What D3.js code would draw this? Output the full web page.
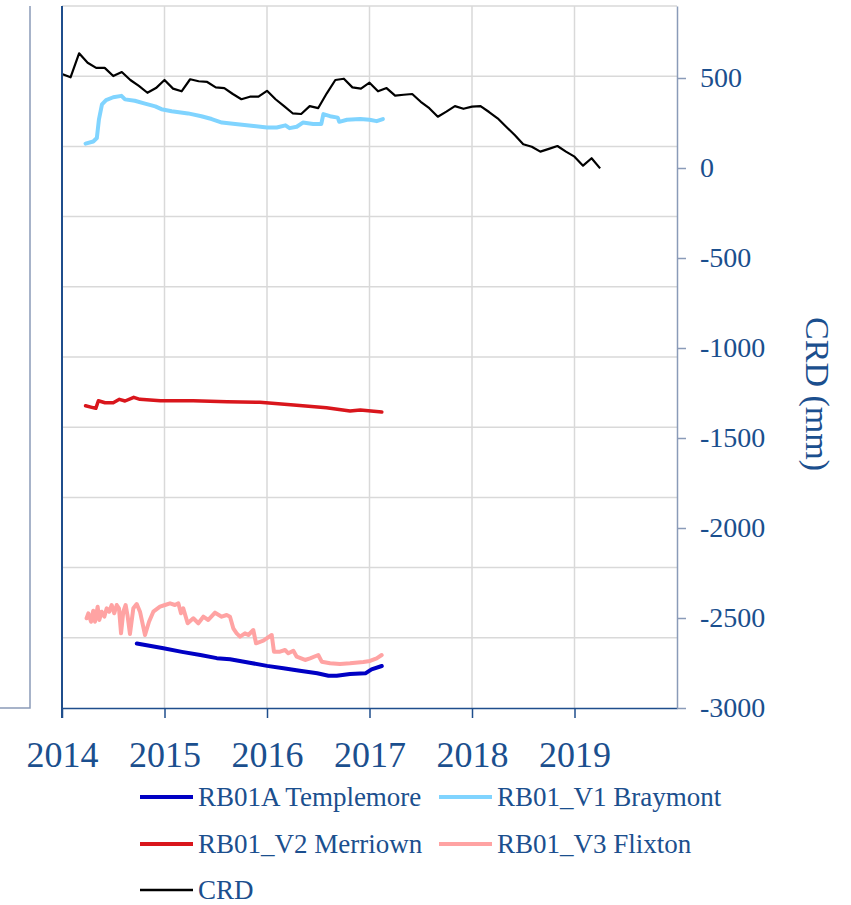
<!DOCTYPE html>
<html>
<head>
    <meta charset="utf-8">
    <title>CRD</title>
    <script src="https://d3js.org/d3.v7.min.js"></script>
    <style>
        body { margin: 0; background: #fff; }
        svg { display: block; }
    </style>
</head>
<body>
    <div id="chart"></div>

    <script>
        // Cumulative rainfall departure, monthly from Jan 2014 (mm, right axis)
        const crdStart = 2014;
        const crdValues = [522, 504, 637, 585, 556, 556, 511, 533, 489, 456, 418, 444,
                           489, 441, 426, 493, 482, 478, 448, 444, 411, 382, 396, 396,
                           429, 382, 344, 304, 300, 344, 333, 415, 489, 496, 448, 441,
                           474, 426, 444, 402, 407, 411, 368, 332, 285, 313, 344, 329,
                           341, 344, 311, 276, 229, 183, 132, 118, 91, 106, 122, 91,
                           63, 13, 54, -2];

        // Borehole levels on the (unlabelled) primary axis: [year, level]
        const templemore = [[2014.73, 0.92], [2014.99, 0.85], [2015.17, 0.80], [2015.35, 0.755],
            [2015.51, 0.71], [2015.64, 0.695], [2015.83, 0.645], [2016.0, 0.60], [2016.16, 0.566],
            [2016.32, 0.53], [2016.49, 0.494], [2016.60, 0.46], [2016.68, 0.46], [2016.81, 0.484],
            [2016.96, 0.494], [2017.02, 0.551], [2017.12, 0.598]];

        const braymont = [[2014.23, 8.04], [2014.305, 8.07], [2014.34, 8.12], [2014.36, 8.38],
            [2014.39, 8.60], [2014.43, 8.66], [2014.50, 8.70], [2014.58, 8.72], [2014.615, 8.67],
            [2014.71, 8.65], [2014.81, 8.61], [2014.91, 8.57], [2014.97, 8.53], [2015.07, 8.50],
            [2015.23, 8.47], [2015.36, 8.43], [2015.46, 8.39], [2015.56, 8.34], [2015.69, 8.32],
            [2015.87, 8.29], [2016.0, 8.27], [2016.095, 8.27], [2016.18, 8.30], [2016.22, 8.26],
            [2016.29, 8.28], [2016.35, 8.34], [2016.45, 8.32], [2016.53, 8.32], [2016.55, 8.46],
            [2016.615, 8.43], [2016.69, 8.41], [2016.705, 8.35], [2016.78, 8.38], [2016.91, 8.39],
            [2017.0, 8.38], [2017.07, 8.36], [2017.13, 8.39]];

        const merriown = [[2014.23, 4.306], [2014.29, 4.283], [2014.33, 4.269], [2014.355, 4.377],
            [2014.42, 4.349], [2014.50, 4.349], [2014.56, 4.397], [2014.615, 4.373], [2014.70, 4.426],
            [2014.76, 4.397], [2014.96, 4.377], [2015.28, 4.377], [2015.61, 4.363], [2015.93, 4.355],
            [2016.26, 4.316], [2016.58, 4.278], [2016.81, 4.231], [2016.91, 4.245], [2017.12, 4.217]];

        const flixton = [[2014.24, 1.278], [2014.257, 1.349], [2014.283, 1.229], [2014.305, 1.386],
            [2014.322, 1.229], [2014.348, 1.443], [2014.364, 1.254], [2014.387, 1.372], [2014.413, 1.301],
            [2014.436, 1.420], [2014.461, 1.372], [2014.485, 1.467], [2014.51, 1.349], [2014.534, 1.467],
            [2014.556, 1.420], [2014.576, 1.064], [2014.598, 1.372], [2014.621, 1.467], [2014.641, 1.301],
            [2014.663, 1.054], [2014.696, 1.420], [2014.729, 1.481], [2014.761, 1.372], [2014.81, 1.040],
            [2014.849, 1.229], [2014.891, 1.372], [2014.956, 1.443], [2015.005, 1.467], [2015.054, 1.491],
            [2015.102, 1.467], [2015.135, 1.491], [2015.161, 1.349], [2015.183, 1.420], [2015.226, 1.207],
            [2015.281, 1.278], [2015.33, 1.207], [2015.379, 1.301], [2015.427, 1.254], [2015.493, 1.358],
            [2015.558, 1.301], [2015.607, 1.325], [2015.639, 1.301], [2015.671, 1.135], [2015.704, 1.064],
            [2015.737, 1.016], [2015.785, 1.064], [2015.818, 1.040], [2015.866, 1.111], [2015.893, 0.922],
            [2015.964, 0.959], [2016.046, 1.040], [2016.068, 0.802], [2016.127, 0.802], [2016.176, 0.826],
            [2016.208, 0.779], [2016.257, 0.816], [2016.29, 0.731], [2016.371, 0.684], [2016.42, 0.708],
            [2016.50, 0.755], [2016.534, 0.660], [2016.615, 0.637], [2016.712, 0.627], [2016.81, 0.637],
            [2016.94, 0.655], [2017.005, 0.670], [2017.07, 0.708], [2017.119, 0.755]];

        const yearTicks = [2014, 2015, 2016, 2017, 2018, 2019];
        const crdTicks = [-3000, -2500, -2000, -1500, -1000, -500, 0, 500];

        const legendNames = ["RB01A Templemore", "RB01_V1 Braymont", "RB01_V2 Merriown", "RB01_V3 Flixton", "CRD"];
        const legendColors = ["#0000c4", "#80d4ff", "#d9161c", "#ffa3a3", "#000000"];

        const width = 851;
        const height = 905;
        const textColor = "#1b4f8e";
        const font = "'Liberation Serif', 'Times New Roman', serif";

        const x = d3.scaleLinear().domain([2014, 2020]).range([62, 677]);
        const yLeft = d3.scaleLinear().domain([0, 10]).range([708, 6]);
        const yRight = d3.scaleLinear().domain([-3000, 900]).range([708, 6]);

        const svg = d3.select("#chart")
            .append("svg")
            .attr("width", width)
            .attr("height", height)
            .style("font-family", font);

        svg.append("rect").attr("width", width).attr("height", height).attr("fill", "#fff");

        // remains of a neighbouring chart frame on the left
        svg.append("path")
            .attr("d", "M30,6V708H0")
            .attr("fill", "none")
            .attr("stroke", "#8a9bb8")
            .attr("stroke-width", 1.5);

        // gridlines
        const grid = svg.append("g").attr("stroke", "#d9d9d9").attr("stroke-width", 1.5);
        grid.selectAll(".h")
            .data(d3.range(1, 11))
            .join("line")
            .attr("x1", x(2014)).attr("x2", x(2020))
            .attr("y1", d => yLeft(d)).attr("y2", d => yLeft(d));
        grid.selectAll(".v")
            .data(yearTicks.slice(1))
            .join("line")
            .attr("x1", d => x(d)).attr("x2", d => x(d))
            .attr("y1", yLeft(0)).attr("y2", yLeft(10));

        // series
        const lineL = d3.line().x(d => x(d[0])).y(d => yLeft(d[1]));
        const series = [
            { data: templemore, color: legendColors[0], w: 4 },
            { data: braymont, color: legendColors[1], w: 4 },
            { data: merriown, color: legendColors[2], w: 3.5 },
            { data: flixton, color: legendColors[3], w: 4 }
        ];
        svg.append("g").selectAll("path")
            .data(series)
            .join("path")
            .attr("fill", "none")
            .attr("stroke", d => d.color)
            .attr("stroke-width", d => d.w)
            .attr("stroke-linejoin", "round")
            .attr("stroke-linecap", "round")
            .attr("d", d => lineL(d.data));

        const crd = crdValues.map((v, i) => [crdStart + i / 12, v]);
        svg.append("path")
            .datum(crd)
            .attr("fill", "none")
            .attr("stroke", legendColors[4])
            .attr("stroke-width", 2.2)
            .attr("stroke-linejoin", "round")
            .attr("d", d3.line().x(d => x(d[0])).y(d => yRight(d[1])));

        // bottom axis
        const xAxis = svg.append("g")
            .attr("transform", `translate(0,${yLeft(0)})`)
            .call(d3.axisBottom(x).tickValues(yearTicks).tickSize(10).tickSizeOuter(0)
                .tickPadding(23).tickFormat(d => d));
        xAxis.select(".domain").attr("stroke", "#1f4e8c").attr("stroke-width", 1.5);
        xAxis.selectAll(".tick line").attr("stroke", "#1f4e8c").attr("stroke-width", 1.5);
        xAxis.selectAll("text").attr("fill", textColor).style("font-size", "36px").style("font-family", font);

        // left axis line
        svg.append("line")
            .attr("x1", x(2014)).attr("x2", x(2014))
            .attr("y1", yLeft(10)).attr("y2", yLeft(0) + 10)
            .attr("stroke", "#1f4e8c").attr("stroke-width", 2);

        // right axis (CRD)
        const yAxis = svg.append("g")
            .attr("transform", `translate(${x(2020)},0)`)
            .call(d3.axisRight(yRight).tickValues(crdTicks).tickSize(9).tickSizeOuter(0)
                .tickPadding(14).tickFormat(d => String(d)));
        yAxis.select(".domain").attr("stroke", "#8a9bb8").attr("stroke-width", 1.5);
        yAxis.selectAll(".tick line").attr("stroke", "#8a9bb8").attr("stroke-width", 1.5);
        yAxis.selectAll("text").attr("fill", textColor).style("font-size", "28px").style("font-family", font);

        svg.append("text")
            .attr("transform", "translate(806,394) rotate(90)")
            .attr("text-anchor", "middle")
            .attr("fill", textColor)
            .style("font-size", "34px")
            .text("CRD (mm)");

        // legend
        const legendPos = [[140, 797], [439, 797], [140, 844], [439, 844], [140, 890]];
        const legend = svg.append("g").selectAll("g")
            .data(legendNames)
            .join("g")
            .attr("transform", (d, i) => `translate(${legendPos[i][0]},${legendPos[i][1]})`);
        legend.append("line")
            .attr("x1", 0).attr("x2", 53)
            .attr("stroke", (d, i) => legendColors[i])
            .attr("stroke-width", (d, i) => i === 4 ? 2.5 : 4);
        legend.append("text")
            .attr("x", 58)
            .attr("y", 9)
            .attr("fill", textColor)
            .style("font-size", "27px")
            .text(d => d);
    </script>
</body>
</html>
